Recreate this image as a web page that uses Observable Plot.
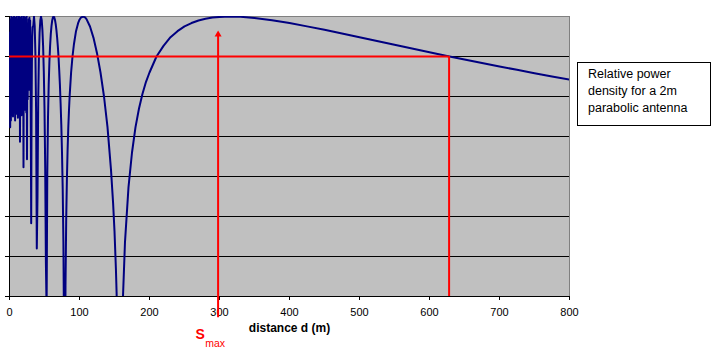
<!DOCTYPE html>
<html><head><meta charset="utf-8">
<script src="https://cdn.jsdelivr.net/npm/d3@7"></script>
<script src="https://cdn.jsdelivr.net/npm/@observablehq/plot@0.6"></script>
<style>
body{margin:0;background:#fff;}
#wrap{position:relative;width:723px;height:363px;font-family:"Liberation Sans",Arial,sans-serif;}
#legend{position:absolute;left:577px;top:62px;width:134px;height:64px;box-sizing:border-box;border:1px solid #000;background:#fff;font-size:12.5px;line-height:16.7px;padding:3.4px 0 0 10px;color:#000;}
</style>
</head><body>
<div id="wrap"><div id="legend">Relative power<br>density for a 2m<br>parabolic antenna</div></div>
<script>
const distance = [0.5,1,1.5,2,2.5,3,3.5,4,4.5,5,5.5,6,6.5,7,7.5,8,8.5,9,9.5,10,10.5,11,11.5,12,12.5,13,13.5,14,14.5,15,15.5,16,16.5,17,17.5,18,18.5,19,19.5,20,20.5,21,21.5,22,22.5,23,23.5,24,24.5,25,25.5,26,26.5,27,27.5,28,28.5,29,29.5,30,30.5,31,31.5,32,32.5,33,34,35,36,37,38,39,40,41,42,43,44,45,46,47,48,49,50,51,52,53,54,55,56,57,58,59,60,61,62,63,64,65,66,67,68,69,70,71,72,73,74,75,76,77,78,79,80,81,82,83,84,85,86,88,90,92,95,98,100,102,105,108,110,115,120,125,130,135,140,145,148,150,152,153,155,157,158,160,162,165,170,175,180,185,190,195,200,210,220,230,240,250,260,270,280,290,300,315,330,350,375,400,425,450,475,500,525,550,575,600,625,650,675,700,725,750,775,800];
const powerDb = [-1.2,-8.3,-0.2,-7.8,0,-7.4,-0.4,-6.6,-0.1,-7.5,-0.6,-6.4,0,-7.2,-0.3,-7.8,-0.1,-6.5,-0.5,-7.3,0,-6.9,-0.2,-7.6,-0.4,-6.3,0,-7.0,-0.3,-9.4,-0.1,-6.6,-0.5,-7.4,0,-5.9,-0.4,-6.8,-0.2,-11.3,0,-5.8,-0.3,-7.0,-0.1,-6.5,-0.2,-7.2,0,-10.7,-2.0,-6.2,-0.5,-4.0,-0.2,-5.5,-0.1,-1.5,-0.3,-4.0,-9.0,-15.5,-7.5,-3.5,-1.5,-0.8,-0.7,0,-0.7,-2.8,-7.1,-17.4,-13.5,-6.4,-3.0,-1.2,-0.3,0,-0.25,-1.0,-2.2,-4.1,-6.9,-11.3,-18.5,-22,-11.7,-7.6,-5.1,-3.4,-2.2,-1.3,-0.7,-0.3,-0.07,0,-0.07,-0.26,-0.57,-1.0,-1.54,-2.2,-3.0,-4.0,-5.1,-6.5,-8.1,-10.2,-12.9,-16.9,-24.4,-34,-20.2,-15.2,-12.2,-10.0,-8.3,-7.0,-5.9,-4.2,-3.0,-2.1,-1.1,-0.5,-0.24,-0.08,0,-0.07,-0.2,-0.75,-1.6,-2.75,-4.2,-6.0,-8.3,-11.5,-14.0,-16.1,-18.9,-20.7,-25.9,-40,-40,-26.2,-21.2,-16.9,-12.8,-10.2,-8.3,-6.9,-5.8,-4.9,-4.2,-3.0,-2.2,-1.55,-1.1,-0.74,-0.49,-0.30,-0.17,-0.08,-0.03,0,-0.02,-0.11,-0.28,-0.49,-0.74,-1.0,-1.27,-1.56,-1.84,-2.12,-2.4,-2.68,-2.96,-3.23,-3.49,-3.75,-4.0,-4.25,-4.5,-4.73];
const xTicks = [0,100,200,300,400,500,600,700,800];
const yTicks = [0,-3,-6,-9,-12,-15,-18,-21];
const gridLevels = [-3,-6,-9,-12,-15,-18];
const sMaxDistance = 298;
const halfPowerDistance = 628;
const halfPowerDb = -3;
const xLabel = "distance d (m)";

const data = distance.map((d, i) => ({d, db: powerDb[i]}));

const chart = Plot.plot({
  width: 723, height: 363,
  marginLeft: 9, marginRight: 154, marginTop: 16, marginBottom: 67,
  style: {fontFamily: "Liberation Sans, Arial, sans-serif", fontSize: "11px", background: "transparent", color: "black"},
  x: {domain: [0, 800]},
  y: {domain: [-21, 0]},
  marks: [
    Plot.frame({fill: "#C0C0C0"}),
    Plot.ruleY(gridLevels, {stroke: "black", strokeWidth: 1}),
    Plot.frame({stroke: "#808080"}),
    Plot.ruleX([0], {stroke: "black"}),
    Plot.ruleY([-21], {stroke: "black"}),
    Plot.axisY({ticks: yTicks, tickSize: 4, tickFormat: () => "", label: null}),
    Plot.axisX({ticks: xTicks, tickSize: 4, tickPadding: 8, label: null, fontSize: 11}),
    Plot.line(data, {x: "d", y: "db", stroke: "#000080", strokeWidth: 2, clip: true}),
    Plot.ruleX([sMaxDistance], {y1: -22.6, y2: -1.5, stroke: "red", strokeWidth: 2}),
    Plot.dot([sMaxDistance], {x: d => d, y: () => -1.35, symbol: "triangle", r: 2.6, fill: "red", stroke: null}),
    Plot.ruleY([halfPowerDb], {x1: 0, x2: halfPowerDistance, stroke: "red", strokeWidth: 2}),
    Plot.ruleX([halfPowerDistance], {y1: -21, y2: halfPowerDb, stroke: "red", strokeWidth: 2}),
    Plot.text([xLabel], {frameAnchor: "bottom", dy: 35, text: d => d, fontWeight: "bold", fontSize: 12}),
    Plot.text(["S"], {x: () => sMaxDistance, frameAnchor: "bottom", dx: -18, dy: 42.5, text: d => d, fill: "red", fontSize: 14, fontWeight: "bold"}),
    Plot.text(["max"], {x: () => sMaxDistance, frameAnchor: "bottom", dx: -3, dy: 50, text: d => d, fill: "red", fontSize: 10.5})
  ]
});
document.getElementById("wrap").prepend(chart);
</script>
</body></html>
